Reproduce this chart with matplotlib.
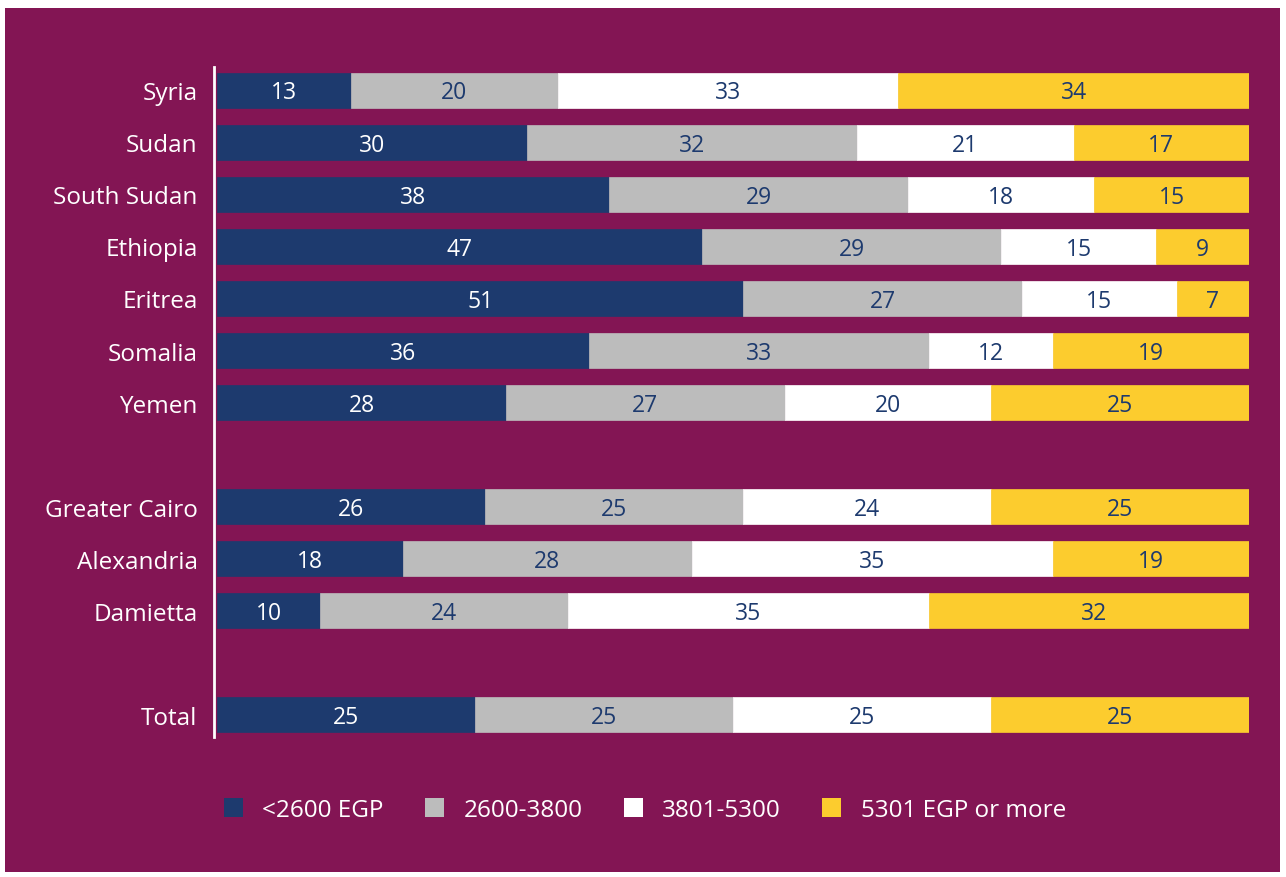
import matplotlib.pyplot as plt
from matplotlib.patches import Rectangle
import numpy as np

plt.rcParams['font.family'] = ['Open Sans', 'DejaVu Sans']

countries = ["Syria", "Sudan", "South Sudan", "Ethiopia", "Eritrea", "Somalia", "Yemen",
             "Greater Cairo", "Alexandria", "Damietta", "Total"]
positions = [0, 1, 2, 3, 4, 5, 6, 8, 9, 10, 12]

low = [13, 30, 38, 47, 51, 36, 28, 26, 18, 10, 25]
mid = [20, 32, 29, 29, 27, 33, 27, 25, 28, 24, 25]
upper = [33, 21, 18, 15, 15, 12, 20, 24, 35, 35, 25]
high = [34, 17, 15, 9, 7, 19, 25, 25, 19, 32, 25]

labels = ["<2600 EGP", "2600-3800", "3801-5300", "5301 EGP or more"]
colors = ["#1d3a6e", "#bcbcbc", "#ffffff", "#fccc2e"]
text_colors = ["white", "#1d3a6e", "#1d3a6e", "#1d3a6e"]
maroon = "#831554"

W, H = 1286, 878
fig = plt.figure(figsize=(W / 100, H / 100), dpi=100)
fig.patch.set_facecolor("white")
fig.patches.append(Rectangle((5 / W, 1 - 873 / H), 1275 / W, 864 / H,
                             transform=fig.transFigure, facecolor=maroon,
                             edgecolor="none", zorder=-5))

ax = fig.add_axes([217 / W, 1 - 738 / H, 1032 / W, 670 / H])
ax.set_facecolor("none")
ax.set_zorder(2)

series = [low, mid, upper, high]
left = np.zeros(len(countries))
for vals, col, tcol, lab in zip(series, colors, text_colors, labels):
    vals = np.array(vals, dtype=float)
    ax.barh(positions, vals, left=left, height=0.67, color=col,
            edgecolor=col, linewidth=0.5, label=lab)
    for y, l, v in zip(positions, left, vals):
        ax.text(l + v / 2, y + 0.04, f"{int(v)}", ha="center", va="center",
                color=tcol, fontsize=16.5)
    left += vals

ax.set_xlim(0, 100)
ax.set_ylim(12.43, -0.45)
ax.set_yticks(positions)
ax.set_yticklabels(countries)
ax.tick_params(axis="y", length=0, pad=12, labelcolor="white", labelsize=17.5)
for t in ax.get_yticklabels():
    t.set_fontweight("semibold")
ax.set_xticks([])
for s in ["top", "right", "bottom"]:
    ax.spines[s].set_visible(False)
ax.spines["left"].set_color("white")
ax.spines["left"].set_linewidth(2)
ax.spines["left"].set_position(("outward", 2))

handles = [Rectangle((0, 0), 1, 1, facecolor=c, edgecolor="none") for c in colors]
leg = fig.legend(handles, labels, loc="center", bbox_to_anchor=(645 / W, 1 - 811 / H),
                 ncol=4, frameon=False, fontsize=17.5, handlelength=0.78, handleheight=0.78,
                 handletextpad=0.8, columnspacing=1.7)
leg.set_zorder(3)
for t in leg.get_texts():
    t.set_color("white")

fig.savefig("out.png", dpi=100)
